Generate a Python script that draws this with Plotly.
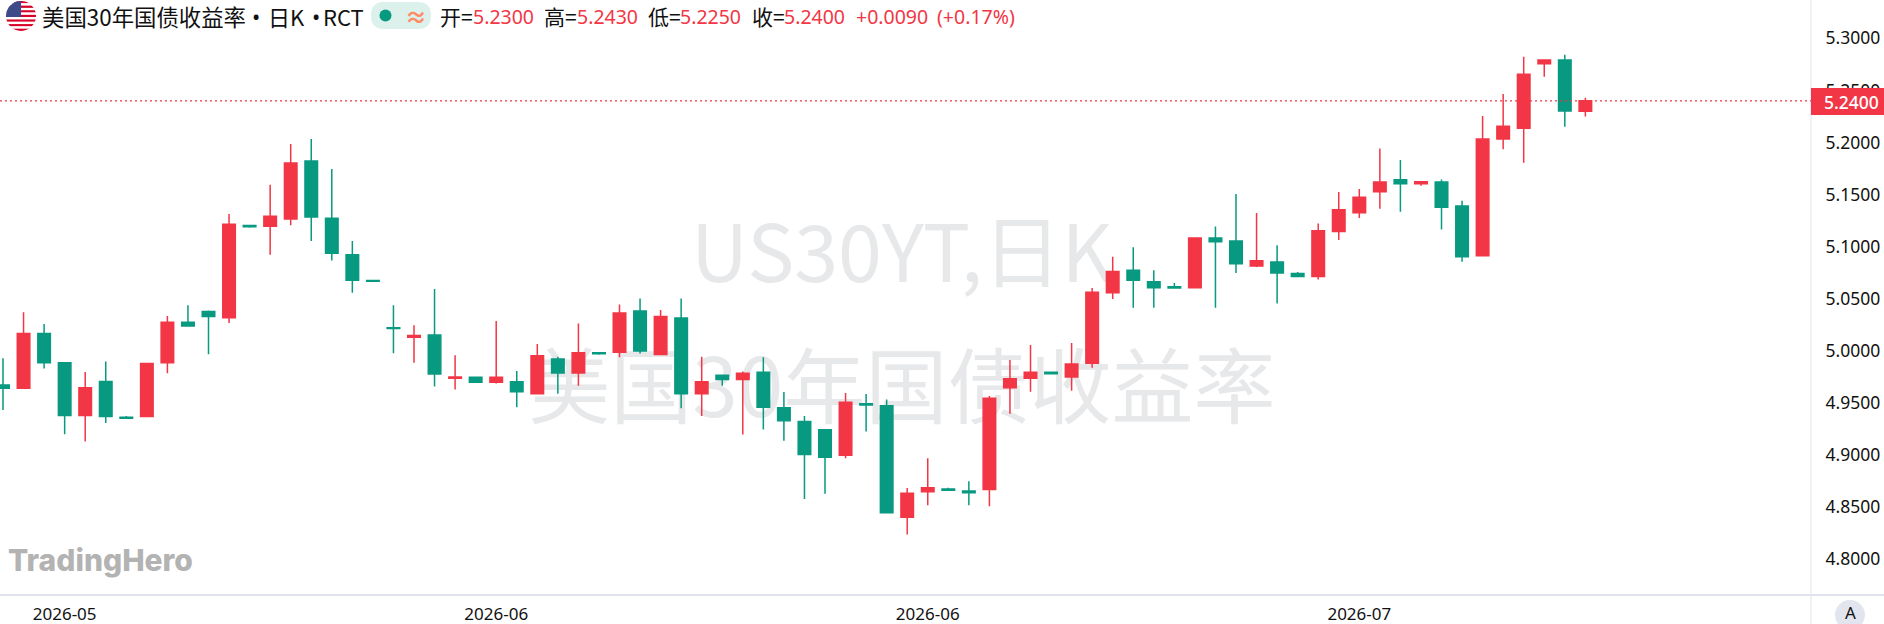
import base64
import plotly.graph_objects as go

W, H = 1884, 624
PLOT_R, PLOT_B = 1811, 595

RED = "#F23645"
GREEN = "#089981"
GRID = "#E0E3EB"
WM = "#E7E8EA"

# candle index, from first visible bar
bar_index = list(range(78))

opens = [
    4.9672, 4.9640, 5.0165, 4.9886, 4.9378, 4.9704, 4.9362, 4.9368, 4.9886, 5.0274,
    5.0376, 5.0318, 5.1202, 5.1195, 5.1266, 5.1822, 5.1272, 5.0923, 5.0674, 5.0222,
    5.0130, 5.0152, 4.9736, 4.9746, 4.9698, 4.9703, 4.9588, 4.9921, 4.9786, 4.9981,
    4.9985, 5.0381, 4.9965, 5.0314, 4.9588, 4.9764, 4.9725, 4.9793, 4.9453, 4.9322,
    4.9242, 4.8996, 4.9492, 4.9473, 4.8401, 4.8647, 4.8673, 4.8653, 4.8669, 4.9645,
    4.9735, 4.9793, 4.9748, 4.9879, 5.0557, 5.0772, 5.0663, 5.0615, 5.0605, 5.1082,
    5.1053, 5.0813, 5.0852, 5.0743, 5.0714, 5.1146, 5.1325, 5.1527, 5.1642, 5.1604,
    5.1620, 5.1389, 5.0913, 5.2034, 5.2136, 5.2757, 5.2792, 5.2300,
]
highs = [
    4.9928, 5.0370, 5.0258, 4.9886, 4.9797, 4.9896, 4.9374, 4.9886, 5.0334, 5.0437,
    5.0386, 5.1314, 5.1205, 5.1595, 5.1986, 5.2034, 5.1746, 5.1054, 5.0680, 5.0437,
    5.0245, 5.0594, 4.9957, 4.9746, 5.0286, 4.9805, 5.0065, 4.9943, 5.0263, 4.9981,
    5.0445, 5.0503, 5.0391, 5.0503, 4.9943, 4.9767, 4.9802, 4.9937, 4.9604, 4.9373,
    4.9242, 4.9594, 4.9585, 4.9533, 4.8682, 4.8967, 4.8685, 4.8746, 4.9565, 4.9911,
    5.0055, 4.9793, 5.0074, 5.0602, 5.0903, 5.0993, 5.0772, 5.0650, 5.1082, 5.1194,
    5.1505, 5.1322, 5.1012, 5.0756, 5.1223, 5.1524, 5.1553, 5.1943, 5.1831, 5.1623,
    5.1645, 5.1441, 5.2254, 5.2466, 5.2824, 5.2792, 5.2843, 5.2430,
]
lows = [
    4.9432, 4.9640, 4.9829, 4.9198, 4.9128, 4.9307, 4.9346, 4.9368, 4.9784, 5.0238,
    4.9966, 5.0267, 5.1182, 5.0923, 5.1205, 5.1054, 5.0866, 5.0558, 5.0664, 4.9976,
    4.9886, 4.9656, 4.9627, 4.9694, 4.9685, 4.9457, 4.9588, 4.9588, 4.9665, 4.9962,
    4.9937, 4.9975, 4.9965, 4.9447, 4.9373, 4.9665, 4.9197, 4.9245, 4.9137, 4.8577,
    4.8628, 4.8967, 4.9226, 4.8445, 4.8237, 4.8516, 4.8657, 4.8516, 4.8506, 4.9396,
    4.9607, 4.9780, 4.9617, 4.9837, 5.0497, 5.0413, 5.0413, 5.0596, 5.0605, 5.0413,
    5.0746, 5.0804, 5.0455, 5.0711, 5.0685, 5.1063, 5.1274, 5.1364, 5.1335, 5.1585,
    5.1165, 5.0855, 5.0913, 5.1934, 5.1806, 5.2632, 5.2152, 5.2250,
]
closes = [
    4.9640, 5.0165, 4.9886, 4.9378, 4.9646, 4.9368, 4.9352, 4.9877, 5.0274, 5.0238,
    5.0328, 5.1214, 5.1192, 5.1291, 5.1803, 5.1285, 5.0936, 5.0677, 5.0667, 5.0213,
    5.0146, 4.9778, 4.9749, 4.9698, 4.9746, 4.9607, 4.9953, 4.9786, 4.9981, 4.9972,
    5.0362, 4.9997, 5.0330, 4.9588, 4.9703, 4.9725, 4.9783, 4.9457, 4.9329, 4.9005,
    4.8977, 4.9505, 4.9479, 4.8445, 4.8631, 4.8685, 4.8660, 4.8637, 4.9543, 4.9732,
    4.9793, 4.9780, 4.9873, 5.0561, 5.0762, 5.0676, 5.0605, 5.0602, 5.1082, 5.1047,
    5.0836, 5.0865, 5.0746, 5.0714, 5.1153, 5.1354, 5.1473, 5.1620, 5.1604, 5.1623,
    5.1377, 5.0903, 5.2034, 5.2155, 5.2654, 5.2792, 5.2302, 5.2400,
]

y_ticks = [5.30, 5.25, 5.20, 5.15, 5.10, 5.05, 5.00, 4.95, 4.90, 4.85, 4.80]
x_tick_bars = [3, 24, 45, 66]
x_tick_labels = ["2026-05", "2026-06", "2026-06", "2026-07"]
last_price = 5.24
watermark_lines = ["US30YT,日K", "美国30年国债收益率"]

CJK = "Noto Sans CJK SC"
SANS = "Noto Sans"


def px(x):
    return x / W


def py(y):
    return 1 - y / H


flag_rows = "".join(
    f'<rect x="0" y="{i * 30 / 13:.3f}" width="30" height="{30 / 13:.3f}" fill="{"#D80027" if i % 2 == 0 else "#FFFFFF"}"/>'
    for i in range(13)
)
flag_svg = (
    '<svg xmlns="http://www.w3.org/2000/svg" width="120" height="120" viewBox="0 0 30 30">'
    '<defs><clipPath id="c"><circle cx="15" cy="15" r="15"/></clipPath></defs>'
    f'<g clip-path="url(#c)">{flag_rows}<rect width="15" height="16" fill="#3C4A8A"/></g></svg>'
)
flag_uri = "data:image/svg+xml;base64," + base64.b64encode(flag_svg.encode()).decode()

fig = go.Figure()

# watermark lives on the base axes so the candles (overlay axes) paint over it
fig.add_trace(go.Scatter(
    x=[0.498, 0.498], y=[1 - 262 / PLOT_B, 1 - 396 / PLOT_B],
    mode="text", text=watermark_lines, textposition="middle center",
    textfont=dict(family=CJK, size=[79, 82], color=WM),
    hoverinfo="skip", showlegend=False, xaxis="x", yaxis="y",
))

fig.add_trace(go.Candlestick(
    x=bar_index, open=opens, high=highs, low=lows, close=closes,
    increasing=dict(line=dict(color=RED, width=1.5), fillcolor=RED),
    decreasing=dict(line=dict(color=GREEN, width=1.5), fillcolor=GREEN),
    whiskerwidth=0, hoverinfo="skip", showlegend=False, xaxis="x2", yaxis="y2",
))

shapes = [
    dict(type="line", xref="paper", yref="paper", x0=px(PLOT_R), x1=px(PLOT_R), y0=0, y1=1,
         line=dict(color=GRID, width=1), layer="below"),
    dict(type="line", xref="paper", yref="paper", x0=0, x1=1, y0=py(PLOT_B), y1=py(PLOT_B),
         line=dict(color=GRID, width=2), layer="below"),
    dict(type="line", xref="paper", yref="y2", x0=0, x1=px(PLOT_R), y0=last_price, y1=last_price,
         line=dict(color=RED, width=1.3, dash="2px,3px")),
    dict(type="rect", xref="paper", yref="paper", x0=px(PLOT_R), x1=1, y0=py(115), y1=py(88),
         line=dict(width=0), fillcolor=RED),
    dict(type="path", xref="paper", yref="paper", fillcolor="#DCF0EC", line=dict(width=0),
         path=(f"M {px(384)} {py(2)} L {px(418)} {py(2)} "
               f"Q {px(431)} {py(2)} {px(431)} {py(15.5)} Q {px(431)} {py(29)} {px(418)} {py(29)} "
               f"L {px(384)} {py(29)} Q {px(371)} {py(29)} {px(371)} {py(15.5)} Q {px(371)} {py(2)} {px(384)} {py(2)} Z")),
    dict(type="circle", xref="paper", yref="paper", x0=px(379.5), x1=px(391.5), y0=py(21.5), y1=py(9.5),
         fillcolor=GREEN, line=dict(width=0)),
    dict(type="circle", xref="paper", yref="paper", x0=px(1835), x1=px(1865), y0=py(630), y1=py(600),
         fillcolor="#E3E5EE", line=dict(width=0)),
]

ann = []


def label(text, x, y, size, color="#111111", family=CJK, anchor="left", weight=None):
    font = dict(family=family, size=size, color=color)
    if weight:
        font["weight"] = weight
    ann.append(dict(text=text, xref="paper", yref="paper", x=px(x), y=py(y), xanchor=anchor,
                    yanchor="middle", showarrow=False, font=font, borderpad=0, borderwidth=0))


label("美国30年国债收益率", 42, 16, 22.4)
label("•", 256, 16, 22, family=SANS, anchor="center")
label("日K", 268, 16, 22)
label("•", 316, 16, 22, family=SANS, anchor="center")
label("RCT", 323, 16, 22)
label("≈", 416, 15, 22, color="#FF8A65", anchor="center", weight=700)
for name, nx, value, vx in [("开=", 440, "5.2300", 473), ("高=", 544, "5.2430", 577),
                            ("低=", 648, "5.2250", 680), ("收=", 752, "5.2400", 784)]:
    label(name, nx, 16, 21)
    label(value, vx, 16, 19.5, color=RED, family=SANS)
label("+0.0090", 856, 16, 19.5, color=RED, family=SANS)
label("(+0.17%)", 937, 16, 19.5, color=RED, family=SANS)
label("5.2400", 1824, 102, 17.5, color="#FFFFFF", family=SANS, weight=500)
label("TradingHero", 8, 560, 30, color="#B3B3B3", family="Inter", weight=800)
label("A", 1850, 612, 17, color="#111111", family=SANS, anchor="center")

fig.update_layout(
    width=W, height=H, margin=dict(l=0, r=0, t=0, b=0, autoexpand=False), autosize=False,
    paper_bgcolor="#FFFFFF", plot_bgcolor="#FFFFFF", showlegend=False, boxgap=0.39, boxgroupgap=0,
    shapes=shapes, annotations=ann,
    images=[dict(source=flag_uri, xref="paper", yref="paper", x=px(6), y=py(1), sizex=30 / W, sizey=30 / H,
                 xanchor="left", yanchor="top", sizing="stretch", layer="above")],
    xaxis=dict(domain=[0, PLOT_R / W], range=[0, 1], visible=False, fixedrange=True),
    yaxis=dict(domain=[1 - PLOT_B / H, 1], range=[0, 1], visible=False, fixedrange=True),
    xaxis2=dict(overlaying="x", anchor="y2", range=[-0.146, 87.98], showgrid=False, zeroline=False,
                rangeslider=dict(visible=False), tickmode="array", tickvals=x_tick_bars, ticktext=x_tick_labels,
                ticks="outside", ticklen=4, tickcolor="rgba(0,0,0,0)", showline=False,
                tickfont=dict(family=SANS, size=17, color="#111111"), fixedrange=True),
    yaxis2=dict(overlaying="y", anchor="x2", side="right", range=[4.7655, 5.3368], showgrid=False, zeroline=False,
                tickmode="array", tickvals=y_ticks, ticktext=[f"{v:.4f}" for v in y_ticks],
                ticks="outside", ticklen=10, tickcolor="rgba(0,0,0,0)", showline=False,
                tickfont=dict(family=SANS, size=17.5, color="#111111"), fixedrange=True),
)

fig.write_html("out.html", config=dict(displayModeBar=False),
               post_script="document.body.style.margin='0';document.body.style.overflow='hidden';window.dispatchEvent(new Event('resize'));")
